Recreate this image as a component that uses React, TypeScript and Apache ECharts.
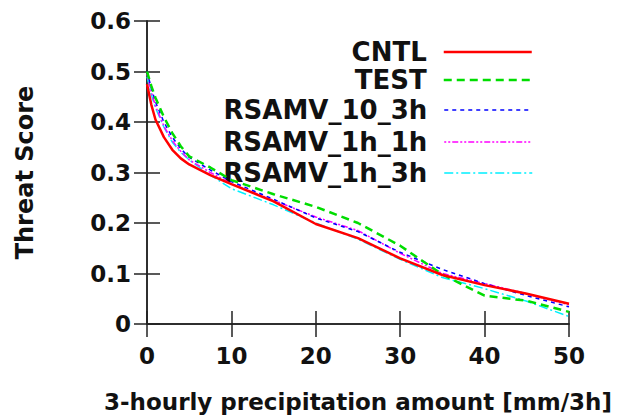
import React, { useEffect, useRef } from "react";
import * as echarts from "echarts";

const xValues = [0, 0.5, 1, 2, 3, 4, 5, 7.5, 10, 15, 20, 25, 30, 35, 40, 45, 50];
const cntl = [0.475, 0.435, 0.405, 0.37, 0.345, 0.328, 0.316, 0.295, 0.277, 0.243, 0.198, 0.17, 0.13, 0.097, 0.077, 0.06, 0.04];
const test = [0.5, 0.472, 0.448, 0.41, 0.378, 0.352, 0.332, 0.31, 0.285, 0.257, 0.232, 0.2, 0.155, 0.098, 0.056, 0.046, 0.024];
const rsamv10_3h = [0.5, 0.468, 0.44, 0.4, 0.37, 0.347, 0.33, 0.305, 0.282, 0.247, 0.21, 0.183, 0.142, 0.108, 0.08, 0.056, 0.034];
const rsamv1h_1h = [0.495, 0.46, 0.432, 0.392, 0.363, 0.342, 0.325, 0.3, 0.278, 0.245, 0.212, 0.185, 0.14, 0.1, 0.08, 0.06, 0.038];
const rsamv1h_3h = [0.49, 0.455, 0.428, 0.39, 0.36, 0.34, 0.325, 0.295, 0.268, 0.236, 0.2, 0.168, 0.128, 0.092, 0.07, 0.045, 0.015];

const seriesNames = ["CNTL", "TEST", "RSAMV_10_3h", "RSAMV_1h_1h", "RSAMV_1h_3h"];
const seriesValues = [cntl, test, rsamv10_3h, rsamv1h_1h, rsamv1h_3h];
const seriesColors = ["#ff0000", "#00dd00", "#0000ff", "#ff00ff", "#00efff"];
const seriesWidths = [2.5, 2.5, 1.5, 1.5, 1.5];
const seriesDash: any[] = ["solid", [8, 5], [4, 4], [2, 2, 2, 2, 6, 2], [9, 3, 2, 3]];
const legendTops = [39, 67, 97, 129, 160];

const FONT = "DejaVu Sans";

export default function App() {
  const ref = useRef<HTMLDivElement>(null);
  useEffect(() => {
    if (!ref.current) return;
    const chart = echarts.init(ref.current, undefined, { renderer: "svg" });
    const axisLine = { show: true, lineStyle: { color: "#222", width: 1.5 } };
    const tick = { show: true, inside: true, length: 13, lineStyle: { color: "#222", width: 1.5 } };
    const labelStyle = { fontFamily: FONT, fontWeight: "bold" as const, fontSize: 23, color: "#111" };
    chart.setOption({
      animation: false,
      backgroundColor: "#fff",
      grid: { left: 147, top: 21, width: 422, height: 303 },
      legend: seriesNames.map((name, i) => ({
        data: [name],
        orient: "vertical",
        align: "right",
        right: 84,
        top: legendTops[i],
        padding: 0,
        itemWidth: 88,
        itemHeight: 14,
        selectedMode: false,
        itemStyle: { color: "transparent", borderColor: "transparent", borderWidth: 0, opacity: 0 },
        lineStyle: { color: seriesColors[i], width: seriesWidths[i], type: seriesDash[i], opacity: 1 },
        textStyle: { fontFamily: FONT, fontWeight: "bold", fontSize: 26, color: "#111", padding: [0, 12, 0, 0] },
      })),
      xAxis: [
        {
          type: "value",
          position: "bottom",
          min: 0,
          max: 50,
          interval: 10,
          axisLine,
          axisTick: tick,
          splitLine: { show: false },
          axisLabel: { ...labelStyle, margin: 20 },
          name: "3-hourly precipitation amount [mm/3h]",
          nameLocation: "middle",
          nameGap: 66,
          nameTextStyle: { ...labelStyle },
        },
        {
          type: "value",
          position: "top",
          min: 0,
          max: 50,
          interval: 10,
          axisLine,
          axisTick: tick,
          splitLine: { show: false },
          axisLabel: { show: false },
        },
      ],
      yAxis: [
        {
          type: "value",
          position: "left",
          min: 0,
          max: 0.6,
          interval: 0.1,
          axisLine,
          axisTick: tick,
          splitLine: { show: false },
          axisLabel: { ...labelStyle, margin: 16 },
          name: "Threat Score",
          nameLocation: "middle",
          nameGap: 110,
          nameTextStyle: { ...labelStyle, fontSize: 24 },
        },
        {
          type: "value",
          position: "right",
          min: 0,
          max: 0.6,
          interval: 0.1,
          axisLine,
          axisTick: tick,
          splitLine: { show: false },
          axisLabel: { show: false },
        },
      ],
      series: seriesNames.map((name, i) => ({
        name,
        type: "line",
        xAxisIndex: 0,
        yAxisIndex: 0,
        symbol: "none",
        smooth: false,
        color: seriesColors[i],
        lineStyle: { color: seriesColors[i], width: seriesWidths[i], type: seriesDash[i] },
        data: xValues.map((x, j) => [x, seriesValues[i][j]]),
        z: 10 - i,
      })),
    });
    return () => chart.dispose();
  }, []);
  return <div ref={ref} style={{ width: 617, height: 420, position: "absolute", left: 0, top: 0 }} />;
}
